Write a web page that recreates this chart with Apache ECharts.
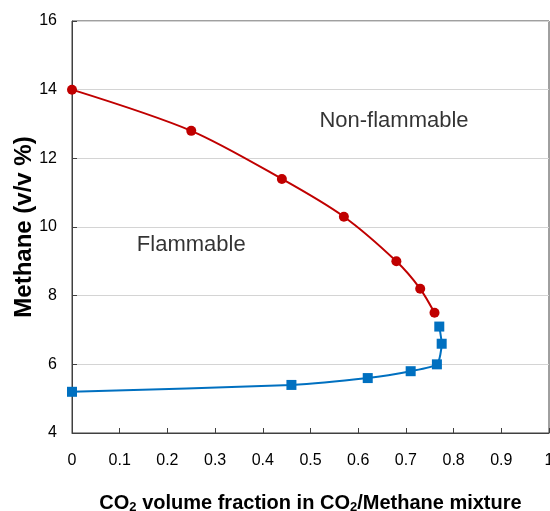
<!DOCTYPE html>
<html>
<head>
<meta charset="utf-8">
<script src="https://cdn.jsdelivr.net/npm/echarts@6/dist/echarts.min.js"></script>
<style>html,body{margin:0;padding:0;background:#fff}#c{width:550px;height:511px}</style>
</head>
<body>
<div id="c"></div>
<script>
var upperX = [0, 0.25, 0.44, 0.57, 0.68, 0.73, 0.76];
var upperY = [14, 12.8, 11.4, 10.3, 9.0, 8.2, 7.5];
var lowerX = [0, 0.46, 0.62, 0.71, 0.765, 0.775, 0.77];
var lowerY = [5.2, 5.4, 5.6, 5.8, 6.0, 6.6, 7.1];
var xTicks = [0, 0.1, 0.2, 0.3, 0.4, 0.5, 0.6, 0.7, 0.8, 0.9, 1];
var yTicks = [4, 6, 8, 10, 12, 14, 16];
var regionLabels = ['Non-flammable', 'Flammable'];
var regionPos = [[0.675, 13.08], [0.25, 9.47]];

function zip(a, b) { return a.map(function (v, i) { return [v, b[i]]; }); }

var chart = echarts.init(document.getElementById('c'), null, {renderer: 'canvas'});
var font = 'Arial, "Liberation Sans", sans-serif';
chart.setOption({
  animation: false,
  grid: {left: 72, right: 1, top: 21, bottom: 78, show: true, borderColor: '#404040', borderWidth: 1,
    backgroundColor: 'transparent', containLabel: false, outerBoundsMode: 'none'},
  xAxis: {
    type: 'value', min: 0, max: 1, interval: 0.1,
    axisLine: {show: true, lineStyle: {color: '#404040'}},
    axisTick: {show: true, inside: true, length: 5, lineStyle: {color: '#404040'}},
    splitLine: {show: false},
    axisLabel: {color: '#000', fontSize: 16, fontFamily: font, margin: 20, showMaxLabel: true,
      formatter: function (v) { return String(Math.round(v * 10) / 10); }},
    name: '{b|CO}{s|2}{b| volume fraction in CO}{s|2}{b|/Methane mixture}',
    nameLocation: 'middle', nameGap: 59, nameMoveOverlap: false,
    nameTextStyle: {rich: {
      b: {fontSize: 20, fontWeight: 'bold', fontFamily: font, color: '#000'},
      s: {fontSize: 13, fontWeight: 'bold', fontFamily: font, color: '#000', verticalAlign: 'bottom', padding: [9, 0, 0, 0]}
    }}
  },
  yAxis: {
    type: 'value', min: 4, max: 16, interval: 2,
    axisLine: {show: true, lineStyle: {color: '#404040'}},
    axisTick: {show: true, inside: true, length: 5, lineStyle: {color: '#404040'}},
    splitLine: {show: true, lineStyle: {color: '#d4d4d4', width: 1}},
    axisLabel: {color: '#000', fontSize: 16, fontFamily: font, margin: 15},
    name: 'Methane (v/v %)', nameLocation: 'middle', nameGap: 36, nameMoveOverlap: false,
    nameTextStyle: {fontSize: 24, fontWeight: 'bold', fontFamily: font, color: '#000'}
  },
  series: [
    {type: 'line', data: zip(upperX, upperY), smooth: 0.3, symbol: 'circle', symbolSize: 10,
      lineStyle: {color: '#C00000', width: 2}, itemStyle: {color: '#C00000'}, z: 3},
    {type: 'line', data: zip(lowerX, lowerY), smooth: 0.2, symbol: 'rect', symbolSize: 10,
      lineStyle: {color: '#0070C0', width: 2}, itemStyle: {color: '#0070C0'}, z: 3},
    {type: 'scatter', data: regionPos.map(function (p, i) { return {value: p, name: regionLabels[i]}; }),
      symbolSize: 0, silent: true,
      label: {show: true, position: 'inside', formatter: function (p) { return p.name; },
        fontSize: 22, fontFamily: font, color: '#000'}}
  ]
});
</script>
</body>
</html>
